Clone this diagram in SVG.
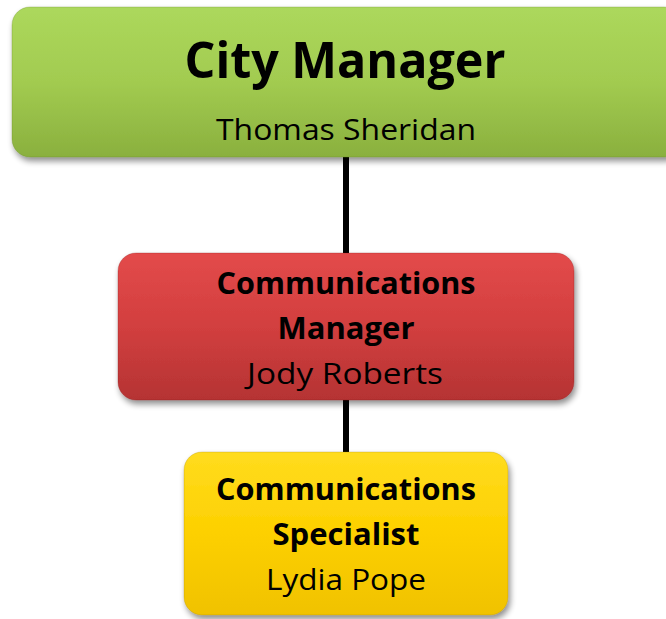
<svg xmlns="http://www.w3.org/2000/svg" width="666" height="619" viewBox="0 0 666 619">
<defs>
<linearGradient id="gGreen" x1="0" y1="0" x2="0" y2="1">
<stop offset="0" stop-color="#acd85c"/><stop offset="0.5" stop-color="#a2cb50"/><stop offset="1" stop-color="#8ab03e"/>
</linearGradient>
<linearGradient id="gRed" x1="0" y1="0" x2="0" y2="1">
<stop offset="0" stop-color="#e34a4a"/><stop offset="0.5" stop-color="#d23f3f"/><stop offset="1" stop-color="#b53333"/>
</linearGradient>
<linearGradient id="gYellow" x1="0" y1="0" x2="0" y2="1">
<stop offset="0" stop-color="#ffdc1e"/><stop offset="0.5" stop-color="#fdd000"/><stop offset="1" stop-color="#f0c200"/>
</linearGradient>
<filter id="shadow" x="-10%" y="-10%" width="120%" height="130%">
<feGaussianBlur in="SourceAlpha" stdDeviation="3"/>
<feOffset dx="2" dy="4" result="b"/>
<feComponentTransfer><feFuncA type="linear" slope="0.45"/></feComponentTransfer>
<feMerge><feMergeNode/><feMergeNode in="SourceGraphic"/></feMerge>
</filter>
</defs>
<style>
.t{font-family:"Open Sans","Liberation Sans",sans-serif;fill:#000;text-anchor:middle}
.b{font-weight:bold}
.box{filter:url(#shadow);stroke-opacity:0.25;stroke-width:1}
</style>
<g id="connectors">
<line x1="346" y1="150" x2="346" y2="260" stroke="#000" stroke-width="6"/>
<line x1="346" y1="395" x2="346" y2="458" stroke="#000" stroke-width="6"/>
</g>
<g id="city-manager">
<rect class="box" x="12" y="7" width="670" height="150" rx="18" fill="url(#gGreen)" stroke="#5a7a20"/>
<text class="t b" x="345" y="78" font-size="50" textLength="321" lengthAdjust="spacingAndGlyphs">City Manager</text>
<text class="t" x="346" y="140" font-size="30" textLength="260" lengthAdjust="spacingAndGlyphs">Thomas Sheridan</text>
</g>
<g id="communications-manager">
<rect class="box" x="118" y="253" width="456" height="147" rx="18" fill="url(#gRed)" stroke="#7a1c1c"/>
<text class="t b" x="346" y="294" font-size="30" textLength="259" lengthAdjust="spacingAndGlyphs">Communications</text>
<text class="t b" x="346" y="339" font-size="30" textLength="137" lengthAdjust="spacingAndGlyphs">Manager</text>
<text class="t" x="345" y="384" font-size="30" textLength="196" lengthAdjust="spacingAndGlyphs">Jody Roberts</text>
</g>
<g id="communications-specialist">
<rect class="box" x="184" y="452" width="324" height="163" rx="18" fill="url(#gYellow)" stroke="#9a7d00"/>
<text class="t b" x="346" y="500" font-size="30" textLength="260" lengthAdjust="spacingAndGlyphs">Communications</text>
<text class="t b" x="346" y="545" font-size="30" textLength="147" lengthAdjust="spacingAndGlyphs">Specialist</text>
<text class="t" x="346" y="590" font-size="30" textLength="160" lengthAdjust="spacingAndGlyphs">Lydia Pope</text>
</g>
</svg>
